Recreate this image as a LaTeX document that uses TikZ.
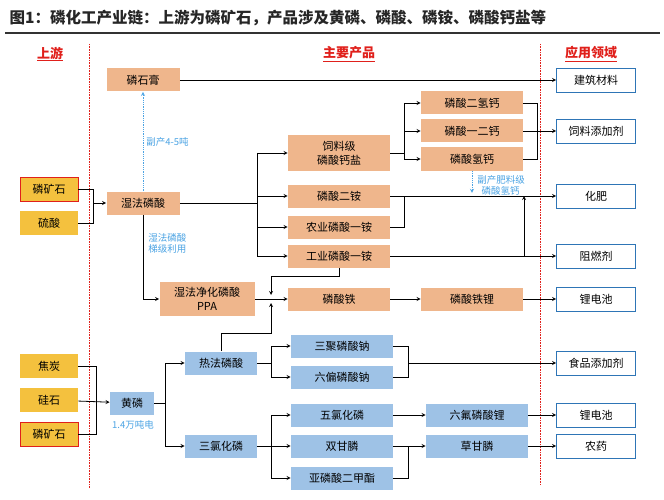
\documentclass[tikz,border=0pt]{standalone}
\usepackage{fontspec}
\setmainfont{Noto Sans CJK SC}
\usetikzlibrary{calc}
\definecolor{ora}{HTML}{EFB68C}
\definecolor{yel}{HTML}{F4C13E}
\definecolor{blu}{HTML}{9EC2E6}
\definecolor{edg}{HTML}{2E75B6}
\definecolor{note}{HTML}{4BA3E3}
\definecolor{hd}{HTML}{E0201B}
\tikzset{up/.style  = {fill=yel, minimum width=58pt, minimum height=24pt, inner sep=0pt},
         upr/.style = {up, draw=hd, thick},
         op/.style  = {fill=ora, minimum height=23pt, inner sep=0pt},
         bp/.style  = {fill=blu, minimum height=23pt, inner sep=0pt},
         ap/.style  = {draw=edg, thick, fill=white, minimum width=79pt, minimum height=24pt, inner sep=0pt},
         nt/.style  = {text=note, font=\fontsize{9.5}{11}\selectfont, align=left, inner sep=1pt},
         hdr/.style = {text=hd, font=\fontsize{13}{14}\selectfont\bfseries}}

\begin{document}
\begin{tikzpicture}[x=1pt, y=-1pt, >=stealth, thick, font=\fontsize{11}{13}\selectfont]
  \useasboundingbox (0,0) rectangle (664,500);
  \node[anchor=west, font=\fontsize{15.5}{17}\selectfont\bfseries, text=black!85] (title) at (6,18)
    {图1：磷化工产业链：上游为磷矿石，产品涉及黄磷、磷酸、磷铵、磷酸钙盐等};
  \draw[very thick, draw=black!80] (5,33) -- (660,33);
  \node[hdr] (hup) at (50,54) {\underline{上游}};
  \node[hdr] (hmain) at (349,54) {\underline{主要产品}};
  \node[hdr] (happ) at (591,54) {\underline{应用领域}};
  \draw[hd, densely dotted, semithick] (89,44) -- (89,488);
  \draw[hd, densely dotted, semithick] (540,44) -- (540,485);
  % upstream
  \node[upr] (ore1) at (49,189) {磷矿石};
  \node[up]  (acid) at (49,223) {硫酸};
  \node[up]  (coke) at (49,366) {焦炭};
  \node[up]  (sili) at (49,400) {硅石};
  \node[upr] (ore2) at (49,434) {磷矿石};
  % main products
  \node[op, minimum width=73pt] (gyp)  at (143,80)  {磷石膏};
  \node[op, minimum width=73pt] (wet)  at (143,203) {湿法磷酸};
  \node[op, minimum width=95pt, minimum height=34pt, align=center, font=\fontsize{11}{14}\selectfont] (ppa) at (207,299) {湿法净化磷酸\\PPA};
  \node[op, minimum width=102pt, minimum height=35pt, align=center, font=\fontsize{11}{14}\selectfont] (feed) at (339,153) {饲料级\\磷酸钙盐};
  \node[op, minimum width=102pt] (dap)  at (339,196) {磷酸二铵};
  \node[op, minimum width=102pt] (amap) at (339,227) {农业磷酸一铵};
  \node[op, minimum width=102pt] (imap) at (339,256) {工业磷酸一铵};
  \node[op, minimum width=102pt] (fep)  at (339,299) {磷酸铁};
  \node[op, minimum width=102pt] (mcp)  at (472,103) {磷酸二氢钙};
  \node[op, minimum width=102pt] (mdcp) at (472,131) {磷酸一二钙};
  \node[op, minimum width=102pt] (dcp)  at (472,159) {磷酸氢钙};
  \node[op, minimum width=102pt] (lfp)  at (472,299) {磷酸铁锂};
  \node[bp, minimum width=44pt]  (yp)   at (132,403) {黄磷};
  \node[bp, minimum width=72pt]  (hot)  at (221,363) {热法磷酸};
  \node[bp, minimum width=72pt]  (pcl3) at (221,446) {三氯化磷};
  \node[bp, minimum width=102pt] (stpp) at (342,346) {三聚磷酸钠};
  \node[bp, minimum width=102pt] (shmp) at (342,377) {六偏磷酸钠};
  \node[bp, minimum width=102pt] (pcl5) at (342,415) {五氯化磷};
  \node[bp, minimum width=102pt] (gly2) at (342,446) {双甘膦};
  \node[bp, minimum width=102pt] (dmp)  at (342,478) {亚磷酸二甲酯};
  \node[bp, minimum width=102pt] (lipf) at (477,415) {六氟磷酸锂};
  \node[bp, minimum width=102pt] (gly)  at (477,446) {草甘膦};
  % applications
  \node[ap] (build) at (596,80)  {建筑材料};
  \node[ap] (fadd)  at (596,131) {饲料添加剂};
  \node[ap] (fert)  at (596,196) {化肥};
  \node[ap] (fire)  at (596,256) {阻燃剂};
  \node[ap] (bat1)  at (596,299) {锂电池};
  \node[ap] (food)  at (596,363) {食品添加剂};
  \node[ap] (bat2)  at (596,415) {锂电池};
  \node[ap] (pest)  at (596,446) {农药};
  % notes
  \node[nt, anchor=west] (n1) at (145,142) {副产4-5吨};
  \node[nt, anchor=west] (n2) at (147,243) {湿法磷酸\\梯级利用};
  \node[nt, anchor=west] (n3) at (476,185) {副产肥料级\\\ \ 磷酸氢钙};
  \node[nt] (n4) at (133,425) {1.4万吨电};
  % wet route
  \coordinate (j1) at (93,203);
  \draw (ore1.east) -| (j1 |- acid.east) -- (acid.east);
  \draw[->] (j1) -- (wet);
  \draw[->, note, densely dotted] (wet) -- (gyp);
  \draw[->] (gyp) -- (build);
  \coordinate (j2) at (257,203);
  \draw (wet) -- (j2);
  \draw (j2 |- feed) -- (j2 |- imap);
  \foreach \t in {feed, dap, amap, imap} \draw[->] (j2 |- \t) -- (\t);
  \draw[->] (wet.south) |- (ppa);
  \coordinate (j3) at (271,299);
  \draw[->] (imap.south) -- ++(0,8) -| ($(j3)+(0,-4)$);
  \draw[->] (hot.north) -- ++(0,-18) -| ($(j3)+(0,4)$);
  \draw[->] (ppa) -- (fep);
  \draw[->] (fep) -- (lfp);
  \draw[->] (lfp) -- (bat1);
  \coordinate (j4) at (404,153);
  \draw (feed) -- (j4);
  \draw (j4 |- mcp) -- (j4 |- dcp);
  \foreach \t in {mcp, mdcp, dcp} \draw[->] (j4 |- \t) -- (\t);
  \coordinate (j5) at (537,131);
  \draw (mcp) -| (j5 |- dcp) -- (dcp);
  \draw[->] (mdcp) -- (fadd);
  \draw[->, note, densely dotted] (dcp.south) -- ++(0,22);
  \draw[->] (dap) -- (fert);
  \draw (amap) -| (404,196);
  \draw[->] (imap) -- (fire);
  \draw[->] (524,256) -- (524,196);
  % thermal route
  \coordinate (j6) at (96,403);
  \draw (coke.east) -| (j6 |- ore2.east) -- (ore2.east);
  \draw[->] (sili) -- (yp);
  \coordinate (j7) at (165,403);
  \draw (yp) -- (j7);
  \draw[->] (j7) |- (hot);
  \draw[->] (j7) |- (pcl3);
  \coordinate (j8) at (271,363);
  \draw (hot) -- (j8);
  \draw[->] (j8) |- (stpp);
  \draw[->] (j8) |- (shmp);
  \coordinate (j9) at (408,363);
  \draw (stpp) -| (j9 |- shmp) -- (shmp);
  \draw[->] (j9) -- (food);
  \coordinate (j10) at (271,446);
  \draw (pcl3) -- (j10);
  \draw[->] (j10) |- (pcl5);
  \draw[->] (j10) -- (gly2);
  \draw[->] (j10) |- (dmp);
  \draw[->] (pcl5) -- (lipf);
  \draw[->] (lipf) -- (bat2);
  \coordinate (j11) at (408,446);
  \draw (gly2) -- (j11) |- (dmp);
  \draw[->] (j11) -- (gly);
  \draw[->] (gly) -- (pest);
\end{tikzpicture}
\end{document}
